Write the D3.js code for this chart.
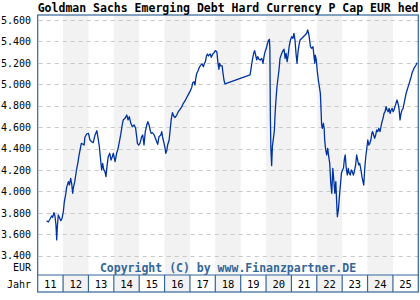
<!DOCTYPE html>
<html>
<head>
<meta charset="utf-8">
<script src="https://cdn.jsdelivr.net/npm/d3@7"></script>
<style>
  body { margin: 0; background: #fff; }
  svg { display: block; }
</style>
</head>
<body>
<div id="chart"></div>
<script>
// Fund price (EUR); dates as decimal years
const dates = [
  2011.35, 2011.42, 2011.48, 2011.55, 2011.59, 2011.64, 2011.68, 2011.72, 2011.75, 2011.77,
  2011.81, 2011.85, 2011.91, 2011.96, 2012.01, 2012.05, 2012.10, 2012.14, 2012.21, 2012.25,
  2012.30, 2012.34, 2012.38, 2012.40, 2012.46, 2012.50, 2012.54, 2012.58, 2012.62, 2012.67,
  2012.72, 2012.77, 2012.83, 2012.86, 2012.93, 2013.00, 2013.06, 2013.13, 2013.19, 2013.26,
  2013.33, 2013.38, 2013.43, 2013.48, 2013.52, 2013.56, 2013.60, 2013.65, 2013.69, 2013.73,
  2013.78, 2013.84, 2013.89, 2013.94, 2013.98, 2014.05, 2014.11, 2014.17, 2014.22, 2014.27,
  2014.32, 2014.37, 2014.44, 2014.51, 2014.56, 2014.61, 2014.67, 2014.73, 2014.80, 2014.86,
  2014.90, 2014.93, 2014.98, 2015.03, 2015.10, 2015.14, 2015.19, 2015.24, 2015.30, 2015.34,
  2015.39, 2015.43, 2015.47, 2015.52, 2015.59, 2015.64, 2015.69, 2015.73, 2015.78, 2015.85,
  2015.89, 2015.93, 2015.98, 2016.02, 2016.05, 2016.09, 2016.12, 2016.18, 2016.22, 2016.26,
  2016.31, 2016.36, 2016.41, 2016.48, 2016.54, 2016.61, 2016.68, 2016.74, 2016.81, 2016.87,
  2016.94, 2017.00, 2017.07, 2017.11, 2017.16, 2017.20, 2017.23, 2017.27, 2017.32, 2017.37,
  2017.43, 2017.48, 2017.53, 2017.57, 2017.61, 2017.65, 2017.69, 2017.73, 2017.76, 2017.80,
  2017.84, 2017.90, 2017.95, 2018.00, 2018.06, 2018.10, 2018.14, 2018.17, 2018.21, 2018.27,
  2018.30, 2018.34, 2018.38, 2019.37, 2019.41, 2019.46, 2019.51, 2019.55, 2019.59, 2019.63,
  2019.67, 2019.72, 2019.77, 2019.83, 2019.88, 2019.92, 2019.96, 2020.01, 2020.05, 2020.09,
  2020.13, 2020.15, 2020.17, 2020.19, 2020.22, 2020.25, 2020.33, 2020.35, 2020.39, 2020.43,
  2020.47, 2020.51, 2020.55, 2020.62, 2020.67, 2020.71, 2020.75, 2020.79, 2020.83, 2020.87,
  2020.91, 2020.96, 2021.01, 2021.06, 2021.10, 2021.14, 2021.18, 2021.22, 2021.26, 2021.30,
  2021.34, 2021.41, 2021.47, 2021.54, 2021.60, 2021.64, 2021.69, 2021.75, 2021.80, 2021.85,
  2021.89, 2021.92, 2021.94, 2021.98, 2022.02, 2022.06, 2022.10, 2022.14, 2022.17, 2022.19,
  2022.22, 2022.26, 2022.29, 2022.31, 2022.35, 2022.39, 2022.43, 2022.47, 2022.51, 2022.55,
  2022.59, 2022.63, 2022.67, 2022.71, 2022.75, 2022.79, 2022.81, 2022.85, 2022.89, 2022.93,
  2022.97, 2023.01, 2023.05, 2023.09, 2023.12, 2023.16, 2023.20, 2023.24, 2023.28, 2023.32,
  2023.36, 2023.40, 2023.44, 2023.48, 2023.53, 2023.57, 2023.61, 2023.65, 2023.69, 2023.73,
  2023.78, 2023.82, 2023.85, 2023.89, 2023.93, 2023.97, 2024.01, 2024.05, 2024.09, 2024.13,
  2024.17, 2024.20, 2024.24, 2024.28, 2024.32, 2024.36, 2024.40, 2024.44, 2024.49, 2024.53,
  2024.57, 2024.61, 2024.65, 2024.69, 2024.73, 2024.77, 2024.81, 2024.85, 2024.89, 2024.93,
  2024.97, 2025.01, 2025.04, 2025.08, 2025.12, 2025.16, 2025.20, 2025.24, 2025.28, 2025.32,
  2025.36, 2025.40, 2025.44, 2025.48, 2025.52, 2025.56, 2025.60, 2025.64, 2025.68, 2025.72,
  2025.75, 2025.79, 2025.83, 2025.87, 2025.91, 2025.95
];
const values = [
  3727, 3715, 3740, 3771, 3759, 3802, 3771, 3687, 3547, 3656,
  3780, 3759, 3727, 3749, 3811, 3904, 3967, 4038, 4091, 4060,
  4122, 4069, 3983, 4029, 4091, 4153, 4216, 4262, 4324, 4387,
  4449, 4443, 4433, 4505, 4536, 4542, 4480, 4464, 4455, 4527,
  4567, 4496, 4418, 4293, 4200, 4262, 4206, 4184, 4138, 4231,
  4324, 4356, 4293, 4324, 4356, 4278, 4356, 4402, 4464, 4527,
  4604, 4667, 4682, 4713, 4667, 4698, 4636, 4604, 4620, 4589,
  4511, 4449, 4433, 4449, 4511, 4527, 4433, 4558, 4620, 4651,
  4620, 4573, 4542, 4548, 4527, 4496, 4464, 4440, 4511, 4527,
  4558, 4496, 4449, 4402, 4356, 4387, 4433, 4480, 4573, 4667,
  4735, 4704, 4689, 4713, 4744, 4766, 4791, 4822, 4847, 4875,
  4906, 4931, 4971, 5015, 5024, 4993, 5056, 5103, 5127, 5158,
  5180, 5189, 5164, 5196, 5211, 5264, 5283, 5264, 5274, 5283,
  5252, 5283, 5295, 5314, 5304, 5211, 5140, 5196, 5171, 5171,
  5109, 5040, 5003, 5087, 5149, 5227, 5289, 5314, 5273, 5227,
  5258, 5233, 5227, 5242, 5196, 5258, 5304, 5336, 5376, 5407,
  5420, 5340, 4700, 4400, 4240, 4420, 4573, 4698, 4853, 4978,
  5056, 5133, 5242, 5289, 5314, 5327, 5242, 5289, 5211, 5273,
  5351, 5413, 5444, 5429, 5476, 5413, 5289, 5196, 5304, 5367,
  5413, 5429, 5444, 5460, 5476, 5507, 5460, 5351, 5336, 5351,
  5258, 5196, 5273, 5227, 5118, 5040, 4978, 4916, 4744, 4620,
  4589, 4636, 4589, 4480, 4387, 4340, 4402, 4324, 4262, 4076,
  3983, 4216, 4107, 3983, 4091, 3858, 3764, 3827, 3951, 4060,
  4169, 4200, 4216, 4309, 4340, 4216, 4153, 4216, 4169, 4153,
  4200, 4184, 4153, 4184, 4247, 4340, 4293, 4247, 4262, 4216,
  4138, 4091, 4060, 4216, 4324, 4402, 4480, 4433, 4449, 4480,
  4542, 4558, 4527, 4496, 4527, 4573, 4558, 4589, 4558, 4604,
  4651, 4682, 4729, 4744, 4791, 4760, 4744, 4775, 4729, 4760,
  4775, 4744, 4760, 4791, 4822, 4853, 4822, 4775, 4667, 4729,
  4760, 4775, 4822, 4869, 4916, 4947, 4978, 5009, 5040, 5071,
  5103, 5127, 5149, 5164, 5180, 5202
];
const years = [2011, 2012, 2013, 2014, 2015, 2016, 2017, 2018, 2019, 2020, 2021, 2022, 2023, 2024, 2025];
const yTicks = [3400, 3600, 3800, 4000, 4200, 4400, 4600, 4800, 5000, 5200, 5400, 5600];
// title as far as the original shows it (it is cut at the right edge there)
const title = "Goldman Sachs Emerging Debt Hard Currency P Cap EUR hed";

const W = 420, H = 300;
const plotLeft = 37.7, plotRight = 418.3, plotTop = 15, plotBottom = 275, rowBottom = 292;
const blue = "#336699";

const svg = d3.select("#chart").append("svg")
    .attr("width", W)
    .attr("height", H);

const x = d3.scaleLinear().domain([2011, 2026]).range([plotLeft, plotRight]);
const y = d3.scaleLinear().domain([3400, 5600]).range([255.7, 20]);

const de = d3.formatLocale({ decimal: ",", thousands: ".", grouping: [3], currency: ["", " €"] });

// alternating year bands (plot area and year row)
svg.selectAll(".band")
  .data(years.filter(d => d % 2 === 0))
  .join("rect")
    .attr("class", "band")
    .attr("x", d => x(d))
    .attr("y", plotTop)
    .attr("width", d => x(d + 1) - x(d))
    .attr("height", rowBottom - plotTop)
    .attr("fill", "#f2f2f2");

// dashed gridlines
svg.selectAll(".grid")
  .data(yTicks)
  .join("line")
    .attr("class", "grid")
    .attr("x1", plotLeft + 1)
    .attr("x2", plotRight)
    .attr("y1", d => Math.round(y(d)) + 0.5)
    .attr("y2", d => Math.round(y(d)) + 0.5)
    .attr("stroke", "#c8c8c8")
    .attr("stroke-dasharray", "4,4");

// y axis labels
const yAxis = svg.append("g")
    .attr("transform", "translate(31,0)")
    .call(d3.axisLeft(y).tickValues(yTicks).tickSize(0).tickPadding(0).tickFormat(de.format(",")));
yAxis.select(".domain").remove();
yAxis.selectAll("text")
    .attr("font-family", "DejaVu Sans Mono, monospace")
    .attr("font-size", 10)
    .attr("fill", "#000");

svg.append("text")
    .attr("x", 31).attr("y", 271)
    .attr("text-anchor", "end")
    .attr("font-family", "DejaVu Sans Mono, monospace")
    .attr("font-size", 10)
    .text("EUR");

svg.append("text")
    .attr("x", 31).attr("y", 287.5)
    .attr("text-anchor", "end")
    .attr("font-family", "DejaVu Sans Mono, monospace")
    .attr("font-size", 10)
    .text("Jahr");

// copyright
svg.append("text")
    .attr("x", (plotLeft + plotRight) / 2)
    .attr("y", 271.5)
    .attr("text-anchor", "middle")
    .attr("font-family", "DejaVu Sans Mono, monospace")
    .attr("font-weight", "bold")
    .attr("font-size", 11.5)
    .attr("fill", blue)
    .text("Copyright (C) by www.Finanzpartner.DE");

// price line
const line = d3.line()
    .x((d, i) => x(dates[i]))
    .y(d => y(d));

svg.append("path")
    .datum(values)
    .attr("d", line)
    .attr("fill", "none")
    .attr("stroke", "#0033a0")
    .attr("stroke-width", 1.3)
    .attr("stroke-linejoin", "round");

// frame and year row
svg.append("rect")
    .attr("x", plotLeft).attr("y", plotTop)
    .attr("width", plotRight - plotLeft).attr("height", rowBottom - plotTop)
    .attr("fill", "none")
    .attr("stroke", blue)
    .attr("stroke-width", 1.2);

svg.append("line")
    .attr("x1", plotLeft).attr("x2", plotRight)
    .attr("y1", plotBottom).attr("y2", plotBottom)
    .attr("stroke", blue)
    .attr("stroke-width", 1.2);

svg.selectAll(".ysep")
  .data(years.slice(1))
  .join("line")
    .attr("class", "ysep")
    .attr("x1", d => x(d)).attr("x2", d => x(d))
    .attr("y1", plotBottom).attr("y2", rowBottom)
    .attr("stroke", blue)
    .attr("stroke-width", 1.2);

svg.selectAll(".ylab")
  .data(years)
  .join("text")
    .attr("class", "ylab")
    .attr("x", d => (x(d) + x(d + 1)) / 2)
    .attr("y", 287.5)
    .attr("text-anchor", "middle")
    .attr("font-family", "DejaVu Sans Mono, monospace")
    .attr("font-size", 10.5)
    .text(d => String(d).slice(2));

// title
svg.append("text")
    .attr("x", plotLeft)
    .attr("y", 12)
    .attr("font-family", "DejaVu Sans Mono, monospace")
    .attr("font-weight", "bold")
    .attr("font-size", 11.5)
    .text(title);
</script>
</body>
</html>
